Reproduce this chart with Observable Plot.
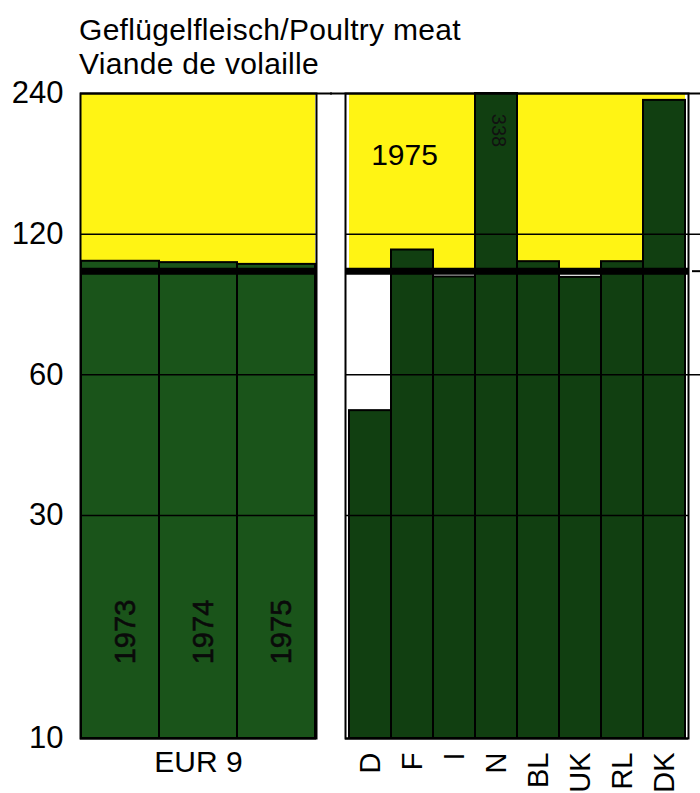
<!DOCTYPE html>
<html>
<head>
<meta charset="utf-8">
<script src="https://cdn.jsdelivr.net/npm/d3@7"></script>
<script src="https://cdn.jsdelivr.net/npm/@observablehq/plot@0.6"></script>
<style>
  html, body { margin: 0; padding: 0; background: #ffffff; }
  #wrap { position: relative; width: 700px; height: 793px; overflow: hidden; font-family: "Liberation Sans", Arial, sans-serif; }
  #title { position: absolute; left: 79px; top: 13px; font-size: 30px; line-height: 34px; color: #000; letter-spacing: 0.3px; }
  #left { position: absolute; left: 0; top: 0; }
  #right { position: absolute; left: 330px; top: 0; }
  svg { overflow: visible; }
</style>
</head>
<body>
<div id="wrap">
  <div id="title">Geflügelfleisch/Poultry meat<br>Viande de volaille</div>
  <div id="left"></div>
  <div id="right"></div>
</div>
<script>
// --- data ---
const years = ["1973", "1974", "1975"];
const eurValues = [105, 104.3, 103.4];
const countries = ["D", "F", "I", "N", "BL", "UK", "RL", "DK"];
const countryValues = [50.3, 111, 97.2, 338, 104.8, 97, 104.8, 232];
const yTicks = [240, 120, 60, 30, 10];
const gridValues = [120, 60, 30];
const yMin = 10, yMax = 240, selfSufficiency = 100;
const groupLabel = "EUR 9";
const yearNote = "1975";
const overflowNote = "338";
const yearLabelLevel = 16.9;
const yearNoteLevel = 177;
const overflowNoteLevel = 200;

const eurData = years.map((y, i) => ({cat: y, value: eurValues[i]}));
const countryData = countries.map((c, i) => ({cat: c, value: countryValues[i]}));

const YELLOW = "#fff414";
const GREEN_L = "#1a541a";
const GREEN_R = "#113f11";
const FONT = "Liberation Sans, Arial, sans-serif";

const yScale = {type: "log", domain: [yMin, yMax], clamp: true};

// --- left panel (EUR 9) ---
const left = Plot.plot({
  width: 330, height: 793,
  marginLeft: 80, marginRight: 14, marginTop: 93, marginBottom: 55,
  style: {fontFamily: FONT, background: "transparent"},
  x: {type: "band", domain: years, padding: 0, axis: null},
  y: {...yScale, label: null},
  marks: [
    Plot.axisY({ticks: yTicks, tickFormat: d => String(d), tickSize: 0, tickPadding: 17, fontSize: 31, label: null}),
    Plot.barY(years, {x: d => d, y1: () => selfSufficiency, y2: () => yMax, fill: YELLOW, inset: 0}),
    Plot.barY(eurData, {x: "cat", y1: () => yMin, y2: "value", fill: GREEN_L, stroke: "#000", strokeWidth: 2, inset: 0}),
    Plot.ruleY(gridValues, {stroke: "#000", strokeWidth: 1.5}),
    Plot.ruleY([yMax], {stroke: "#000", strokeWidth: 2, insetRight: -16}),
    Plot.ruleY([selfSufficiency], {stroke: "#000", strokeWidth: 7}),
    Plot.ruleY([yMin], {stroke: "#000", strokeWidth: 2}),
    Plot.frame({stroke: "#000", strokeWidth: 2}),
    Plot.text(eurData, {x: "cat", y: () => yearLabelLevel, text: "cat", rotate: -90, fontSize: 29, fill: "#0a0a0a", stroke: "#0a0a0a", strokeWidth: 0.6, dx: 5}),
    Plot.text([groupLabel], {frameAnchor: "bottom", text: d => d, dy: 33, fontSize: 30, fill: "#000"})
  ]
});
document.getElementById("left").appendChild(left);

// --- right panel (countries) ---
const right = Plot.plot({
  width: 370, height: 793,
  marginLeft: 15, marginRight: 12, marginTop: 93, marginBottom: 55,
  style: {fontFamily: FONT, background: "transparent"},
  x: {type: "band", domain: countries, padding: 0},
  y: {...yScale, axis: null},
  marks: [
    Plot.axisX({tickRotate: -90, tickSize: 0, tickPadding: 14, fontSize: 29, label: null}),
    Plot.barY(countries, {x: d => d, y1: () => selfSufficiency, y2: () => yMax, fill: YELLOW, inset: 0}),
    Plot.barY(countryData, {x: "cat", y1: () => yMin, y2: "value", fill: GREEN_R, stroke: "#000", strokeWidth: 2, inset: 0}),
    Plot.ruleY([120, 60], {stroke: "#000", strokeWidth: 1.5, insetRight: -12}),
    Plot.ruleY([30], {stroke: "#000", strokeWidth: 1.5}),
    Plot.ruleY([yMax], {stroke: "#000", strokeWidth: 2, insetRight: -12, insetLeft: -15}),
    Plot.ruleY([selfSufficiency], {stroke: "#000", strokeWidth: 7}),
    Plot.ruleY([selfSufficiency], {stroke: "#000", strokeWidth: 2, insetLeft: 347, insetRight: -12}),
    Plot.ruleY([yMin], {stroke: "#000", strokeWidth: 2}),
    Plot.frame({stroke: "#000", strokeWidth: 2}),
    Plot.text([yearNote], {x: () => "D", y: () => yearNoteLevel, text: d => d, dx: 34, fontSize: 30, fill: "#000"}),
    Plot.text([overflowNote], {x: () => "N", y: () => overflowNoteLevel, text: d => d, rotate: 90, fontSize: 20, fill: "#111", dx: 2})
  ]
});
document.getElementById("right").appendChild(right);
</script>
</body>
</html>
